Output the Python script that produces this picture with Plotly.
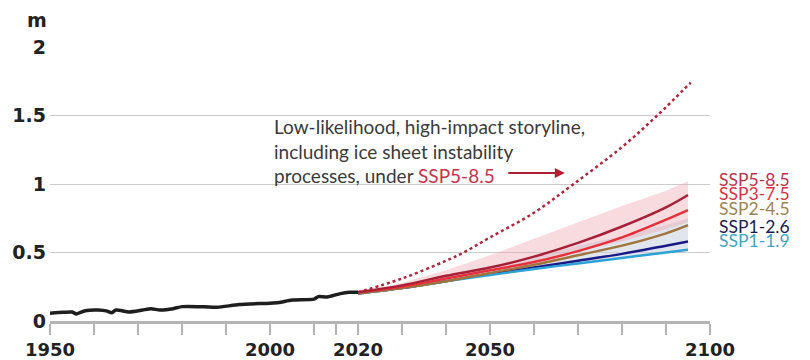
import plotly.graph_objects as go

# ---- data ----
hist_years = [1950, 1953, 1955, 1956, 1958, 1961, 1963, 1964, 1965, 1968, 1971, 1973, 1975, 1978,
              1980, 1985, 1988, 1993, 2000, 2002, 2005, 2010, 2011, 2013, 2016, 2018, 2020]
hist_vals = [0.056, 0.063, 0.066, 0.052, 0.075, 0.08, 0.072, 0.06, 0.08, 0.066, 0.08, 0.09, 0.08, 0.09,
             0.105, 0.104, 0.10, 0.12, 0.13, 0.135, 0.153, 0.16, 0.178, 0.175, 0.20, 0.21, 0.21]

proj_years = [2020, 2030, 2040, 2050, 2060, 2070, 2080, 2090, 2095]
ssp585 = [0.21, 0.26, 0.33, 0.39, 0.47, 0.57, 0.69, 0.83, 0.92]
ssp370 = [0.21, 0.25, 0.31, 0.37, 0.43, 0.51, 0.61, 0.74, 0.81]
ssp245 = [0.20, 0.24, 0.29, 0.35, 0.41, 0.48, 0.55, 0.64, 0.70]
ssp126 = [0.20, 0.24, 0.29, 0.345, 0.39, 0.44, 0.49, 0.55, 0.58]
ssp119 = [0.20, 0.24, 0.29, 0.335, 0.38, 0.42, 0.46, 0.50, 0.52]

pink_upper = [0.21, 0.28, 0.37, 0.48, 0.60, 0.72, 0.84, 0.95, 1.02]
pink_lower = [0.21, 0.25, 0.31, 0.37, 0.43, 0.51, 0.58, 0.67, 0.72]
blue_upper = [0.21, 0.26, 0.33, 0.40, 0.47, 0.55, 0.62, 0.70, 0.75]
blue_lower = ssp119

storyline_years = [2020, 2030, 2040, 2044, 2050, 2060, 2069, 2080, 2088, 2095.6]
storyline_vals = [0.21, 0.31, 0.44, 0.50, 0.61, 0.79, 1.00, 1.27, 1.50, 1.74]

scen_names = ["SSP5-8.5", "SSP3-7.5", "SSP2-4.5", "SSP1-2.6", "SSP1-1.9"]
label_colors = ["#c0304a", "#dc3242", "#9c8352", "#1c1c4e", "#3ea6c4"]
line_colors = {"SSP5-8.5": "#a82038", "SSP3-7.5": "#e8303c", "SSP2-4.5": "#a0743c",
               "SSP1-2.6": "#1a1a86", "SSP1-1.9": "#2ea2d6"}
label_y = [1.036, 0.932, 0.818, 0.693, 0.591]

tick_years = [1950, 1960, 1970, 1980, 1990, 2000, 2010, 2015, 2020, 2030, 2040, 2050,
              2060, 2070, 2080, 2090, 2100]
tick_labels = ["1950", "", "", "", "", "2000", "", "", "2020", "", "", "2050", "", "", "", "", "2100"]
y_ticks = [0, 0.5, 1, 1.5, 2]
y_labels = ["0", "0.5", "1", "1.5", "2"]

series = {"SSP5-8.5": ssp585, "SSP3-7.5": ssp370, "SSP2-4.5": ssp245,
          "SSP1-2.6": ssp126, "SSP1-1.9": ssp119}

fig = go.Figure()

# shading bands
fig.add_trace(go.Scatter(x=proj_years, y=blue_lower, mode="lines", line=dict(width=0),
                         showlegend=False, hoverinfo="skip"))
fig.add_trace(go.Scatter(x=proj_years, y=blue_upper, mode="lines", line=dict(width=0),
                         fill="tonexty", fillcolor="rgba(200,210,224,0.55)",
                         showlegend=False, hoverinfo="skip"))
fig.add_trace(go.Scatter(x=proj_years, y=pink_lower, mode="lines", line=dict(width=0),
                         showlegend=False, hoverinfo="skip"))
fig.add_trace(go.Scatter(x=proj_years, y=pink_upper, mode="lines", line=dict(width=0),
                         fill="tonexty", fillcolor="rgba(236,160,172,0.38)",
                         showlegend=False, hoverinfo="skip"))

# dotted storyline
fig.add_trace(go.Scatter(x=storyline_years, y=storyline_vals, mode="lines",
                         line=dict(color="#b0263a", width=2.5, dash="dot", shape="spline"),
                         showlegend=False, hoverinfo="skip"))

# scenario lines (draw order bottom to top)
for name in ["SSP1-2.6", "SSP1-1.9", "SSP2-4.5", "SSP3-7.5", "SSP5-8.5"]:
    fig.add_trace(go.Scatter(x=proj_years, y=series[name], mode="lines",
                             line=dict(color=line_colors[name], width=2.5, shape="spline"),
                             name=name, showlegend=False))

# historical
fig.add_trace(go.Scatter(x=hist_years, y=hist_vals, mode="lines",
                         line=dict(color="#1e1e1e", width=3.5, shape="spline", smoothing=0.6),
                         showlegend=False))

# right-hand labels
for name, col, yy in zip(scen_names, label_colors, label_y):
    fig.add_annotation(x=1.011, xref="paper", y=yy, yref="y", text=name, showarrow=False,
                       xanchor="left", yanchor="middle",
                       font=dict(family="Lato", size=17.5, color=col))

# storyline annotation text
fig.add_annotation(x=2000.5, y=1.24, xref="x", yref="y",
                   text="Low-likelihood, high-impact storyline,<br>including ice sheet instability<br>"
                        "processes, under <span style='color:#c8324a'>SSP5-8.5</span>",
                   showarrow=False, xanchor="left", yanchor="middle", align="left",
                   font=dict(family="Lato", size=19, color="#3a3a3a"))
# arrow
fig.add_annotation(x=2067, y=1.08, xref="x", yref="y", ax=-58, ay=0, text="",
                   showarrow=True, arrowhead=2, arrowsize=1, arrowwidth=2, arrowcolor="#b02030")

# unit label
fig.add_annotation(x=-0.02, xref="paper", y=1.099, yref="paper", text="<b>m</b>", showarrow=False,
                   xanchor="center", yanchor="middle",
                   font=dict(family="DejaVu Sans", size=19, color="#222"))

fig.update_xaxes(range=[1950, 2100], tickvals=tick_years, ticktext=tick_labels,
                 ticks="outside", ticklen=11, tickcolor="#b4b4b4", tickwidth=1.5,
                 showline=True, linecolor="#b4b4b4", linewidth=2.5, showgrid=False,
                 zeroline=False, ticklabelstandoff=0, automargin=False,
                 tickfont=dict(family="DejaVu Sans", size=18, color="#222", weight="bold"))
fig.update_yaxes(range=[0, 2.0], tickvals=y_ticks, ticktext=y_labels,
                 showgrid=True, gridcolor="#cccccc", gridwidth=1, zeroline=False,
                 showline=False, ticks="", ticklabelstandoff=3, automargin=False,
                 tickfont=dict(family="DejaVu Sans", size=19, color="#222", weight="bold"))

# page body has an 8px margin, so the figure is sized/offset to keep the plot area in place
fig.update_layout(width=802, height=352, margin=dict(l=42, r=100, t=39, b=39),
                  plot_bgcolor="white", paper_bgcolor="white")

fig.write_html("out.html")
